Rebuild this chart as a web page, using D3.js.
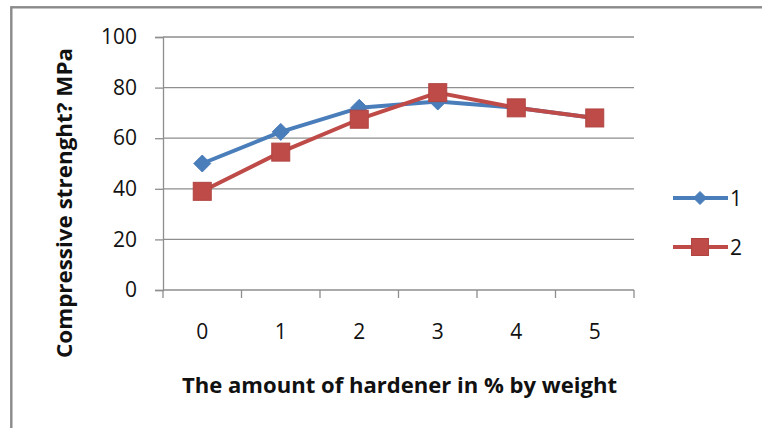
<!DOCTYPE html>
<html>
<head>
<meta charset="utf-8">
<script src="https://cdn.jsdelivr.net/npm/d3@7"></script>
<style>
  html, body { margin: 0; padding: 0; background: #fff; }
  svg { display: block; }
  text { font-family: "Open Sans", "Liberation Sans", sans-serif; fill: #111; }
</style>
</head>
<body>
<svg id="chart" width="762" height="428"></svg>
<script>
// Hardener content (% by weight) on the x axis
const categories = ["0", "1", "2", "3", "4", "5"];
// Compressive strength (MPa) for the two mixes
const series1 = [50, 62.5, 72, 74.5, 72, 68];
const series2 = [39, 54.5, 67.5, 78, 72, 68];
const seriesNames = ["1", "2"];
const yTicks = [0, 20, 40, 60, 80, 100];

const svg = d3.select("#chart");
const W = 762, H = 428;
const plot = { left: 163, right: 634, top: 37, bottom: 290 };

svg.append("rect").attr("width", W).attr("height", H).attr("fill", "#fff");

// outer frame (continues past the right and bottom edges)
svg.append("rect")
  .attr("x", 11.3).attr("y", 7.3)
  .attr("width", W + 20).attr("height", H + 20)
  .attr("fill", "none").attr("stroke", "#8a8a8a").attr("stroke-width", 2.4);

const x = d3.scaleBand().domain(categories).range([plot.left, plot.right]).padding(0);
const y = d3.scaleLinear().domain([0, 100]).range([plot.bottom, plot.top]);

// horizontal gridlines
svg.append("g").selectAll("line").data(yTicks.filter(t => t > 0)).join("line")
  .attr("x1", plot.left).attr("x2", plot.right)
  .attr("y1", d => y(d)).attr("y2", d => y(d))
  .attr("stroke", "#8e8e8e").attr("stroke-width", 1.3);

// y axis
const yAxis = svg.append("g").attr("transform", `translate(${plot.left},0)`)
  .call(d3.axisLeft(y).tickValues(yTicks).tickSize(8).tickPadding(18));
yAxis.select(".domain").attr("stroke", "#8e8e8e").attr("stroke-width", 1.3);
yAxis.selectAll(".tick line").attr("stroke", "#8e8e8e").attr("stroke-width", 1.3);
yAxis.selectAll(".tick text")
  .attr("font-family", "Liberation Sans, Arial, sans-serif")
  .attr("font-size", 21).attr("fill", "#222").attr("x", -26);

// x axis: ticks at category boundaries
const xAxisG = svg.append("g").attr("transform", `translate(0,${plot.bottom})`);
xAxisG.append("line")
  .attr("x1", plot.left).attr("x2", plot.right)
  .attr("stroke", "#8e8e8e").attr("stroke-width", 1.3);
const bounds = categories.map(c => x(c)).concat([x(categories[categories.length - 1]) + x.bandwidth()]);
xAxisG.selectAll("line.tk").data(bounds).join("line").attr("class", "tk")
  .attr("x1", d => d).attr("x2", d => d).attr("y1", 0).attr("y2", 8)
  .attr("stroke", "#8e8e8e").attr("stroke-width", 1.3);
xAxisG.selectAll("text").data(categories).join("text")
  .attr("x", d => x(d) + x.bandwidth() / 2)
  .attr("y", 42 + 7)
  .attr("text-anchor", "middle")
  .attr("font-family", "Liberation Sans, Arial, sans-serif")
  .attr("font-size", 21).attr("fill", "#222")
  .text(d => d);

// axis titles
svg.append("text")
  .attr("x", 182).attr("y", 393)
  .attr("font-weight", "bold").attr("font-size", 21)
  .attr("textLength", 435).attr("lengthAdjust", "spacingAndGlyphs")
  .text("The amount of hardener in % by weight");

svg.append("text")
  .attr("transform", "translate(72,358) rotate(-90)")
  .attr("font-weight", "bold").attr("font-size", 21)
  .attr("textLength", 310).attr("lengthAdjust", "spacingAndGlyphs")
  .text("Compressive strenght? MPa");

const cx = i => x(categories[i]) + x.bandwidth() / 2;
const line = d3.line().x((d, i) => cx(i)).y(d => y(d));

const styles = [
  { color: "#4a7ebb", marker: "diamond" },
  { color: "#be4b48", marker: "square" }
];
const allSeries = [series1, series2];

function drawMarker(g, type, px, py, size, color) {
  if (type === "diamond") {
    const h = size / 2;
    g.append("path")
      .attr("d", `M${px},${py - h}L${px + h},${py}L${px},${py + h}L${px - h},${py}Z`)
      .attr("fill", color).attr("stroke", color).attr("stroke-width", 1);
  } else {
    g.append("rect")
      .attr("x", px - size / 2).attr("y", py - size / 2)
      .attr("width", size).attr("height", size)
      .attr("fill", color).attr("stroke", "#b04440").attr("stroke-width", 1);
  }
}

allSeries.forEach((vals, si) => {
  const s = styles[si];
  const g = svg.append("g");
  g.append("path").datum(vals).attr("d", line)
    .attr("fill", "none").attr("stroke", s.color)
    .attr("stroke-width", 4).attr("stroke-linejoin", "round");
  vals.forEach((v, i) => drawMarker(g, s.marker, cx(i), y(v), s.marker === "diamond" ? 17 : 18, s.color));
});

// legend
const legend = svg.append("g");
seriesNames.forEach((name, i) => {
  const ly = 198 + i * 49;
  const s = styles[i];
  legend.append("line")
    .attr("x1", 673).attr("x2", 728).attr("y1", ly).attr("y2", ly)
    .attr("stroke", s.color).attr("stroke-width", 4);
  drawMarker(legend, s.marker, 700, ly, s.marker === "diamond" ? 13 : 17, s.color);
  legend.append("text")
    .attr("x", 730).attr("y", ly + 8)
    .attr("font-family", "Liberation Sans, Arial, sans-serif")
    .attr("font-size", 21).attr("fill", "#222")
    .text(name);
});
</script>
</body>
</html>
